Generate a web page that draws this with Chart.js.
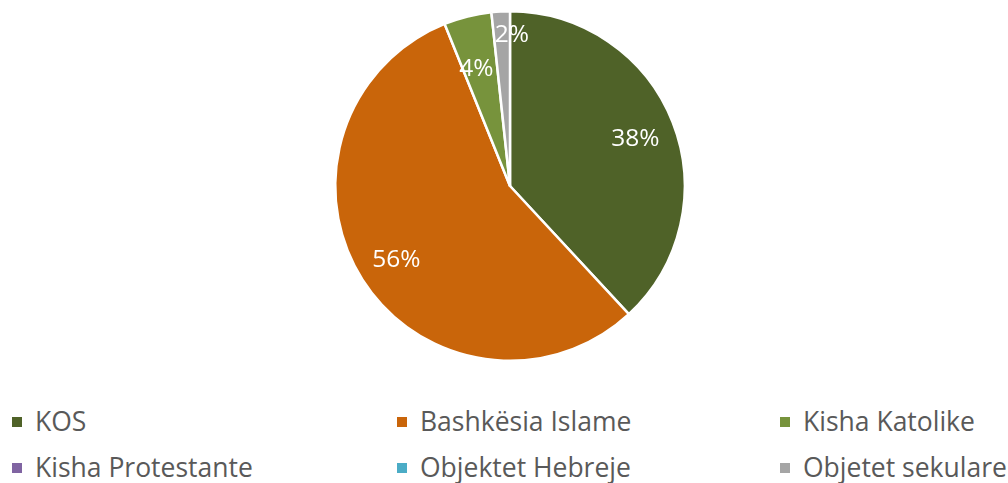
<!DOCTYPE html>
<html>
<head>
<meta charset="utf-8">
<script src="https://cdn.jsdelivr.net/npm/chart.js@4"></script>
<style>
  html, body { margin: 0; padding: 0; background: #fff; }
  #wrap { position: relative; width: 1008px; height: 483px; overflow: hidden; }
  #pie { position: absolute; left: 0; top: 0; }
  .leg { position: absolute; font-family: "Open Sans", sans-serif; font-size: 26.5px; color: #595959; white-space: nowrap; line-height: 1; }
  .leg span.box { position: absolute; width: 10px; height: 10px; left: 0; top: 9px; }
  .leg span.txt { position: absolute; left: 23px; top: 0; }
</style>
</head>
<body>
<div id="wrap">
  <canvas id="pie" width="1008" height="372"></canvas>
  <div id="legend"></div>
</div>
<script>
// Kategorite dhe vlerat (%)
const labels = ['KOS', 'Bashkësia Islame', 'Kisha Katolike', 'Kisha Protestante', 'Objektet Hebreje', 'Objetet sekulare'];
const values = [38.1, 55.8, 4.4, 0, 0, 1.7];
const colors = ['#4f6228', '#c9650a', '#77933c', '#8064a2', '#4bacc6', '#a5a5a5'];

// pozicionet e etiketave (pjese e rrezes, zhvendosje x)
const labelPlace = [
    { r: 0.77, dx: 0 },
    { r: 0.77, dx: 0 },
    { r: 0.70, dx: -4 },
    { r: 0.77, dx: 0 },
    { r: 0.77, dx: 0 },
    { r: 0.875, dx: 10 }
];

const pctLabels = {
    id: 'pctLabels',
    afterDatasetsDraw(chart) {
        const ctx = chart.ctx;
        const meta = chart.getDatasetMeta(0);
        const data = chart.data.datasets[0].data;
        const total = data.reduce((a, b) => a + b, 0);
        const fs = 24.5;
        ctx.save();
        ctx.font = fs + 'px "Open Sans"';
        ctx.fillStyle = '#ffffff';
        ctx.textAlign = 'center';
        ctx.textBaseline = 'alphabetic';
        meta.data.forEach((arc, i) => {
            if (!data[i]) return;
            const p = arc.getProps(['x', 'y', 'startAngle', 'endAngle', 'outerRadius']);
            const mid = (p.startAngle + p.endAngle) / 2;
            const d = p.outerRadius * labelPlace[i].r;
            const x = p.x + Math.cos(mid) * d + labelPlace[i].dx;
            const y = p.y + Math.sin(mid) * d + fs * 0.357;
            ctx.fillText(Math.round(data[i] / total * 100) + '%', x, y);
        });
        ctx.restore();
    }
};

new Chart(document.getElementById('pie').getContext('2d'), {
    type: 'pie',
    data: {
        labels: labels,
        datasets: [{
            data: values,
            backgroundColor: colors,
            borderColor: '#ffffff',
            borderWidth: 2.5
        }]
    },
    options: {
        responsive: false,
        animation: false,
        layout: { padding: { top: 10, bottom: 10, left: 12, right: 0 } },
        plugins: {
            legend: { display: false },
            tooltip: { enabled: false }
        }
    },
    plugins: [pctLabels]
});

// Legjenda: 3 kolona, 2 rreshta
const colX = [12, 397, 780];
const rowY = [408, 453.5];
const legend = document.getElementById('legend');
labels.forEach((name, i) => {
    const el = document.createElement('div');
    el.className = 'leg';
    el.style.left = colX[i % 3] + 'px';
    el.style.top = rowY[Math.floor(i / 3)] + 'px';
    el.innerHTML = '<span class="box" style="background:' + colors[i] + '"></span><span class="txt">' + name + '</span>';
    legend.appendChild(el);
});
</script>
</body>
</html>
